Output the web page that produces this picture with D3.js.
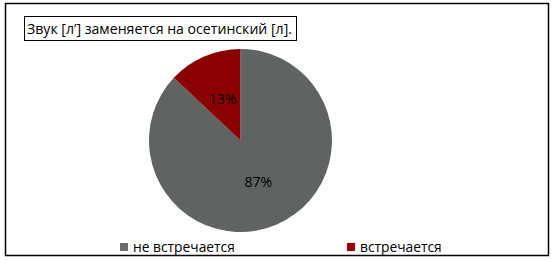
<!DOCTYPE html>
<html>
<head>
<meta charset="utf-8">
<script src="https://cdn.jsdelivr.net/npm/d3@7"></script>
<style>
  body { margin: 0; background: #fff; }
  text { font-family: "Open Sans", "Noto Sans", sans-serif; }
</style>
</head>
<body>
<svg id="chart" width="555" height="260"></svg>
<script>
// Data
var title = 'Звук [л’] заменяется на осетинский [л].';
var categories = ['не встречается', 'встречается'];
var values = [87, 13];
var colors = ['#5f6361', '#8b0000'];
var legendColors = ['#6b6e6c', '#a00000'];

var svg = d3.select('#chart');

// Outer frame
svg.append('rect')
  .attr('x', 5.5).attr('y', 3.5)
  .attr('width', 543).attr('height', 252)
  .attr('fill', '#fff')
  .attr('stroke', '#000')
  .attr('stroke-width', 1.5);

// Title box
svg.append('rect')
  .attr('x', 24.5).attr('y', 16.5)
  .attr('width', 272).attr('height', 24)
  .attr('fill', '#fff')
  .attr('stroke', '#000')
  .attr('stroke-width', 1);

svg.append('text')
  .attr('x', 27).attr('y', 34)
  .attr('font-size', 15)
  .attr('fill', '#000')
  .attr('textLength', 265)
  .attr('lengthAdjust', 'spacingAndGlyphs')
  .text(title);

// Pie
var cx = 240.5, cy = 140.5, radius = 91.5;

var pie = d3.pie().sort(null).value(function(d) { return d; });
var arc = d3.arc().innerRadius(0).outerRadius(radius);
var labelArc = d3.arc().innerRadius(0).outerRadius(radius * 0.98);

var g = svg.append('g')
  .attr('transform', 'translate(' + cx + ',' + cy + ')');

var arcs = pie(values);

g.selectAll('path')
  .data(arcs)
  .enter().append('path')
    .attr('d', arc)
    .attr('fill', function(d, i) { return colors[i]; });

g.selectAll('text.label')
  .data(arcs)
  .enter().append('text')
    .attr('class', 'label')
    .attr('transform', function(d) {
      var c = labelArc.centroid(d);
      return 'translate(' + c[0] + ',' + c[1] + ')';
    })
    .attr('text-anchor', 'middle')
    .attr('dy', '0.35em')
    .attr('font-size', 14)
    .attr('fill', '#000')
    .text(function(d) { return d.value + '%'; });

// Legend
var legendX = [120, 347];
var legend = svg.selectAll('g.legend')
  .data(categories)
  .enter().append('g')
    .attr('class', 'legend')
    .attr('transform', function(d, i) { return 'translate(' + legendX[i] + ',243)'; });

legend.append('rect')
  .attr('width', 8).attr('height', 8)
  .attr('fill', function(d, i) { return legendColors[i]; });

legend.append('text')
  .attr('x', 13).attr('y', 8.5)
  .attr('font-size', 13.8)
  .attr('fill', '#000')
  .text(function(d) { return d; });
</script>
</body>
</html>
